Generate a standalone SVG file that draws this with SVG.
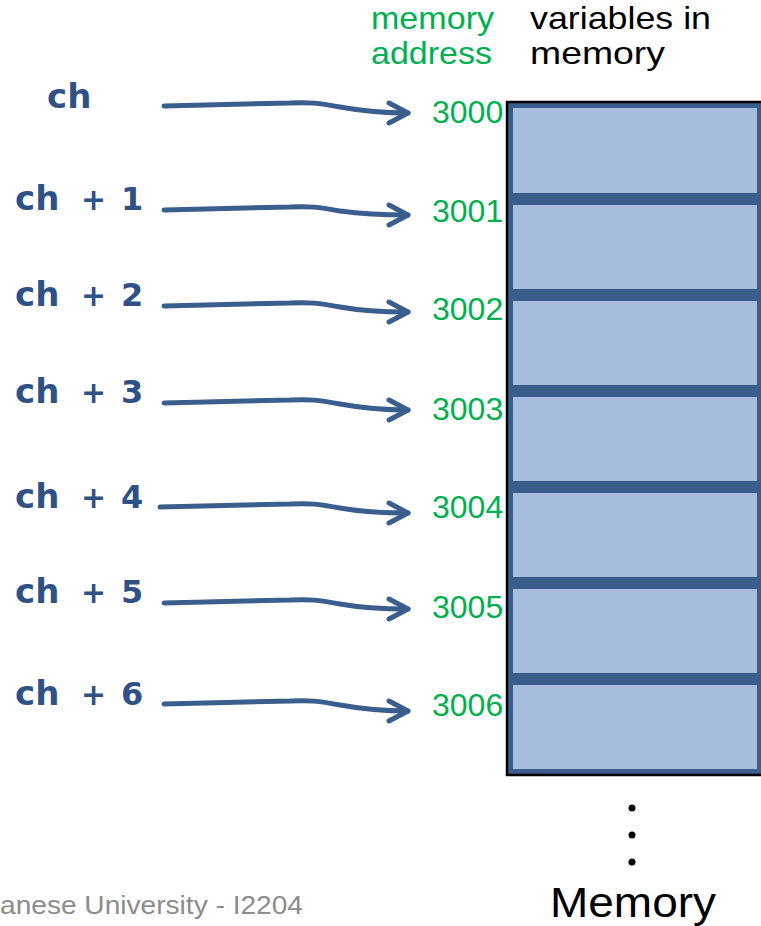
<svg xmlns="http://www.w3.org/2000/svg" width="761" height="926" viewBox="0 0 761 926">
  <style>
    .hand { font-family: "DejaVu Sans", sans-serif; font-weight: bold; fill: #2f5185; }
    .addr { font-family: "Liberation Sans", Arial, sans-serif; font-size: 32px; fill: #00b050; }
    .head { font-family: "Liberation Sans", Arial, sans-serif; font-size: 32px; }
    .cellOuter { fill: #3a5d8c; }
    .cellInner { fill: #a6bedd; }
    .arrow { fill: none; stroke: #3a5f8e; stroke-width: 5; stroke-linecap: round; stroke-linejoin: round; marker-end: url(#chev); }
  </style>
  <defs>
    <marker id="chev" markerUnits="userSpaceOnUse" markerWidth="34" markerHeight="34" viewBox="-28 -17 34 34" refX="0" refY="0" orient="auto">
      <path d="M-19,-10 L0,0 L-19,10" fill="none" stroke="#3a5f8e" stroke-width="5" stroke-linecap="round" stroke-linejoin="round"/>
    </marker>
  </defs>

  <rect width="761" height="926" fill="#ffffff"/>

  <!-- column headings -->
  <g id="heading-address">
    <text class="head" x="371" y="29" fill="#00b050" textLength="123" lengthAdjust="spacingAndGlyphs">memory</text>
    <text class="head" x="371" y="64" fill="#00b050" textLength="121" lengthAdjust="spacingAndGlyphs">address</text>
  </g>
  <g id="heading-variables">
    <text class="head" x="530" y="29" fill="#000000" textLength="181" lengthAdjust="spacingAndGlyphs">variables in</text>
    <text class="head" x="530" y="64" fill="#000000" textLength="135" lengthAdjust="spacingAndGlyphs">memory</text>
  </g>

  <!-- memory column -->
  <g id="memory">
    <g id="cell-0"><rect class="cellOuter" x="507" y="103" width="260" height="97"/><rect class="cellInner" x="513" y="108" width="244" height="85"/></g>
    <g id="cell-1"><rect class="cellOuter" x="507" y="199" width="260" height="97"/><rect class="cellInner" x="513" y="205" width="244" height="84"/></g>
    <g id="cell-2"><rect class="cellOuter" x="507" y="295" width="260" height="97"/><rect class="cellInner" x="513" y="301" width="244" height="84"/></g>
    <g id="cell-3"><rect class="cellOuter" x="507" y="391" width="260" height="97"/><rect class="cellInner" x="513" y="397" width="244" height="84"/></g>
    <g id="cell-4"><rect class="cellOuter" x="507" y="487" width="260" height="97"/><rect class="cellInner" x="513" y="493" width="244" height="84"/></g>
    <g id="cell-5"><rect class="cellOuter" x="507" y="583" width="260" height="97"/><rect class="cellInner" x="513" y="589" width="244" height="84"/></g>
    <g id="cell-6"><rect class="cellOuter" x="507" y="679" width="260" height="95"/><rect class="cellInner" x="513" y="685" width="244" height="84"/></g>
    <path d="M766,102 L507,102 L507,775 L766,775" fill="none" stroke="#000000" stroke-width="2.5"/>
  </g>

  <!-- addresses -->
  <g id="addresses">
    <text class="addr" x="432" y="123">3000</text>
    <text class="addr" x="432" y="222">3001</text>
    <text class="addr" x="432" y="320">3002</text>
    <text class="addr" x="432" y="420">3003</text>
    <text class="addr" x="432" y="518">3004</text>
    <text class="addr" x="432" y="618">3005</text>
    <text class="addr" x="432" y="716">3006</text>
  </g>

  <!-- pointer expressions -->
  <g id="ptr-0"><text class="hand" x="47" y="108" font-size="34">ch</text></g>
  <g id="ptr-1"><text class="hand" x="15" y="210" font-size="34">ch</text><text class="hand" x="81" y="210" font-size="30">+</text><text class="hand" x="121" y="210" font-size="32">1</text></g>
  <g id="ptr-2"><text class="hand" x="15" y="306" font-size="34">ch</text><text class="hand" x="81" y="306" font-size="30">+</text><text class="hand" x="121" y="306" font-size="32">2</text></g>
  <g id="ptr-3"><text class="hand" x="15" y="403" font-size="34">ch</text><text class="hand" x="81" y="403" font-size="30">+</text><text class="hand" x="121" y="403" font-size="32">3</text></g>
  <g id="ptr-4"><text class="hand" x="15" y="508" font-size="34">ch</text><text class="hand" x="81" y="508" font-size="30">+</text><text class="hand" x="121" y="508" font-size="32">4</text></g>
  <g id="ptr-5"><text class="hand" x="15" y="603" font-size="34">ch</text><text class="hand" x="81" y="603" font-size="30">+</text><text class="hand" x="121" y="603" font-size="32">5</text></g>
  <g id="ptr-6"><text class="hand" x="15" y="705" font-size="34">ch</text><text class="hand" x="81" y="705" font-size="30">+</text><text class="hand" x="121" y="705" font-size="32">6</text></g>

  <!-- pointer arrows -->
  <g id="connectors">
    <path class="arrow" d="M164,106 C215,105 255,104 290,103 C310,102 318,103 340,107 C362,111 385,113 408,113"/>
    <path class="arrow" d="M164,210 C215,209 255,208 290,207 C310,206 318,207 340,211 C362,214 385,215 408,215"/>
    <path class="arrow" d="M164,306 C215,305 255,304 290,303 C310,302 318,303 340,307 C362,311 385,312 408,312"/>
    <path class="arrow" d="M164,403 C215,402 255,401 290,400 C310,399 318,400 340,404 C362,408 385,410 408,410"/>
    <path class="arrow" d="M160,507 C215,506 255,505 290,504 C310,503 318,504 340,508 C362,512 385,513 408,513"/>
    <path class="arrow" d="M164,603 C215,602 255,601 290,600 C310,599 318,600 340,604 C362,608 385,609 408,609"/>
    <path class="arrow" d="M164,704 C215,703 255,702 290,701 C310,700 318,701 340,705 C362,709 385,711 408,711"/>
  </g>

  <!-- continuation dots and caption -->
  <g id="ellipsis" fill="#000000">
    <circle cx="632" cy="808" r="3.5"/>
    <circle cx="632" cy="835" r="3.5"/>
    <circle cx="632" cy="862" r="3.5"/>
  </g>
  <g id="caption">
    <text x="550" y="917" font-family="Liberation Sans, Arial, sans-serif" font-size="42" fill="#000000" textLength="166" lengthAdjust="spacingAndGlyphs">Memory</text>
  </g>
  <g id="footer">
    <text x="0" y="914" font-family="Liberation Sans, Arial, sans-serif" font-size="25" fill="#8c8c8c" textLength="303" lengthAdjust="spacingAndGlyphs">anese University - I2204</text>
  </g>
</svg>
